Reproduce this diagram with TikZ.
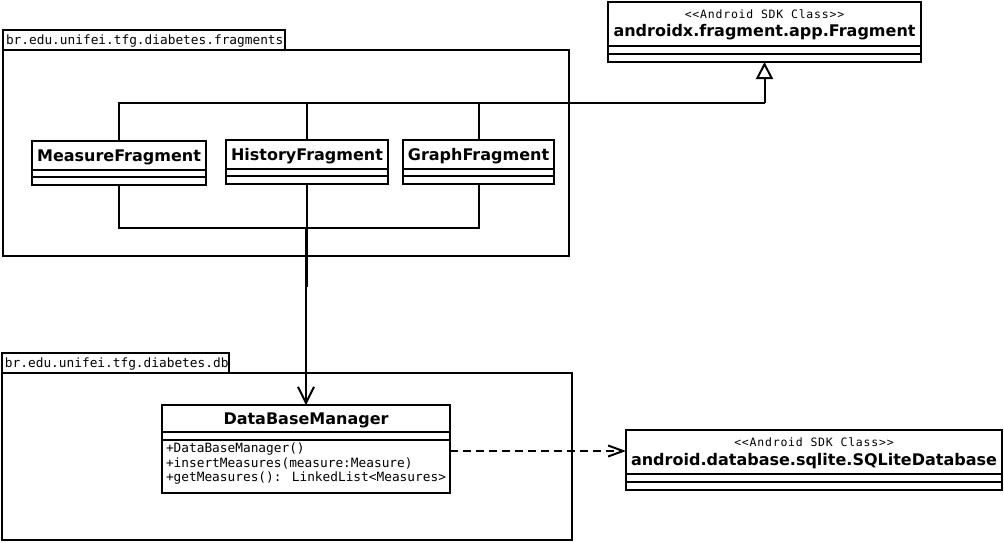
\documentclass[tikz,border=0pt]{standalone}
\usepackage{fontspec}
\usetikzlibrary{arrows.meta}
\newfontfamily\namefont{DejaVu Sans}
\newfontfamily\codefont{DejaVu Sans Mono}
\newfontfamily\stereofont[LetterSpace=6.8]{DejaVu Sans Mono}

% draws a UML class box with two compartment separators
% #1 name, #2 x, #3 y (top left), #4 width, #5 height, #6/#7 separator offsets
\newcommand{\umlclass}[7]{%
  \node[classbox, minimum width=#4pt, minimum height=#5pt, anchor=north west] (#1) at (#2,#3) {};
  \draw ([yshift=-#6pt]#1.north west) -- ([yshift=-#6pt]#1.north east);
  \draw ([yshift=-#7pt]#1.north west) -- ([yshift=-#7pt]#1.north east);
}

\tikzset{
  every picture/.style={line width=2pt},
  classbox/.style={draw, fill=white, inner sep=0pt, outer sep=0pt},
  pkgbox/.style={draw, inner sep=0pt, outer sep=0pt},
  cname/.style={inner sep=0pt, anchor=base, font=\namefont\bfseries\fontsize{16}{19}\selectfont},
  stereo/.style={inner sep=0pt, anchor=base, font=\stereofont\fontsize{11.5}{13}\selectfont},
  code/.style={inner sep=0pt, anchor=base west, font=\codefont\fontsize{12.8}{14.5}\selectfont},
  gen/.style={-{Triangle[open, length=17pt, width=17pt]}},
  dep/.style={-{Straight Barb[length=16pt, width=16pt]}},
  usedep/.style={dashed, dash pattern=on 8pt off 5pt, -{Straight Barb[length=15pt, width=11pt]}},
}

\begin{document}
\begin{tikzpicture}[x=1pt, y=-1pt]
\useasboundingbox (0,0) rectangle (1004,542);

% packages
\node[pkgbox, anchor=north west, minimum width=566pt, minimum height=206pt] (P1) at (3,50) {};
\node[pkgbox, anchor=south west, minimum width=282pt, minimum height=20pt] (P1tab) at (P1.north west) {};
\node[code] (P1name) at (5,44) {br.edu.unifei.tfg.diabetes.fragments};

\node[pkgbox, anchor=north west, minimum width=570pt, minimum height=167pt] (P2) at (2,373) {};
\node[pkgbox, anchor=south west, minimum width=227pt, minimum height=20pt] (P2tab) at (P2.north west) {};
\node[code] (P2name) at (4,367) {br.edu.unifei.tfg.diabetes.db};

% classes
\umlclass{F}{608}{2}{313}{60}{44}{52}
\node[stereo] (Fst) at (764.5,18) {<<Android SDK Class>>};
\node[cname] (Fn) at (764.5,36) {androidx.fragment.app.Fragment};

\umlclass{M}{32}{141}{174}{44}{29}{36}
\node[cname] (Mn) at (119,161.5) {MeasureFragment};

\umlclass{H}{226}{140}{162}{44}{29}{36}
\node[cname] (Hn) at (307,160) {HistoryFragment};

\umlclass{G}{403}{140}{151}{44}{29}{36}
\node[cname] (Gn) at (478.5,160) {GraphFragment};

\umlclass{D}{162}{405}{288}{88}{27}{35}
\node[cname] (Dn) at (306,424) {DataBaseManager};
\node[code] (Dm1) at (165,452.5) {+DataBaseManager()};
\node[code] (Dm2) at (165,467) {+insertMeasures(measure:Measure)};
\node[code] (Dm3) at (165,481.5) {+getMeasures(): LinkedList<Measures>};

\umlclass{S}{626}{430}{376}{60}{44}{52}
\node[stereo] (Sst) at (814,446.5) {<<Android SDK Class>>};
\node[cname] (Sn) at (814,465) {android.database.sqlite.SQLiteDatabase};

% generalization of the three fragments
\coordinate (gj) at (764.5,103);
\draw (M.north) |- (gj);
\draw (H.north) -- (H.north |- gj);
\draw (G.north) -- (G.north |- gj);
\draw[gen] (gj) -- (F.south);

% dependency of the fragments on the database manager
\coordinate (bj) at (306,228);
\coordinate (hend) at (307,287);
\draw (M.south) |- (bj) -| (G.south);
\draw (H.south) -- (hend);
\draw[dep] (bj) -- (D.north);

% database manager uses SQLiteDatabase
\draw[usedep] (D.east |- 0,451) -- (S.west |- 0,451);
\end{tikzpicture}
\end{document}
